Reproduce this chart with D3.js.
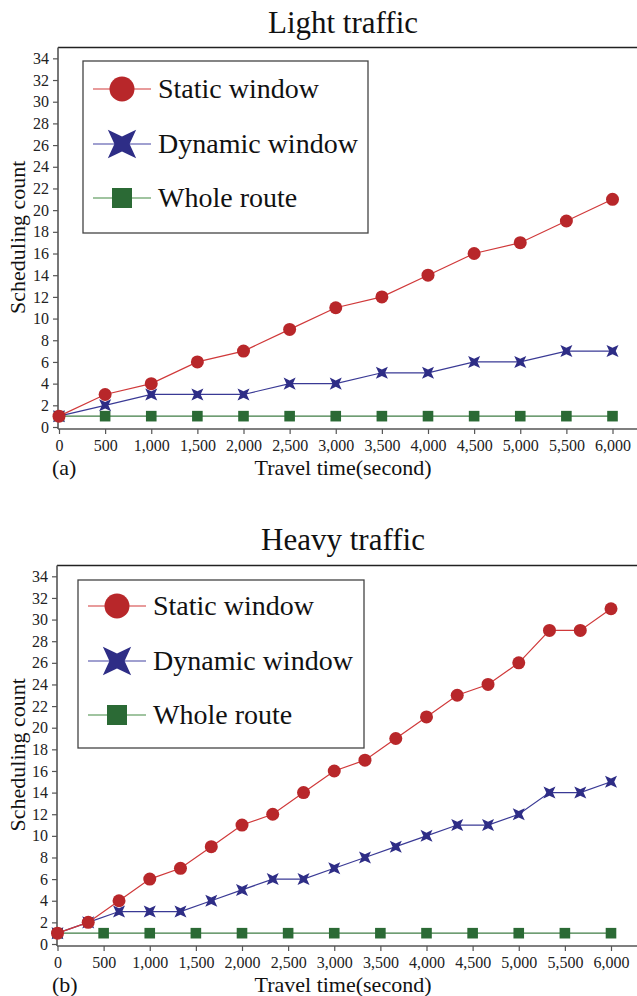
<!DOCTYPE html>
<html>
<head>
<meta charset="utf-8">
<script src="https://cdn.jsdelivr.net/npm/d3@7/dist/d3.min.js"></script>
<style>
  body { margin: 0; background: #fff; }
  svg { display: block; }
</style>
</head>
<body>
<div id="chart"></div>
<script>
// light traffic (a)
var lightX = [0, 500, 1000, 1500, 2000, 2500, 3000, 3500, 4000, 4500, 5000, 5500, 6000];
var lightStatic = [1, 3, 4, 6, 7, 9, 11, 12, 14, 16, 17, 19, 21];
var lightDynamic = [1, 2, 3, 3, 3, 4, 4, 5, 5, 6, 6, 7, 7];
var lightWhole = [1, 1, 1, 1, 1, 1, 1, 1, 1, 1, 1, 1, 1];

// heavy traffic (b) - static/dynamic sampled every 1/3 of 1000 s
var heavyX = [0, 333, 667, 1000, 1333, 1667, 2000, 2333, 2667, 3000, 3333, 3667, 4000, 4333, 4667, 5000, 5333, 5667, 6000];
var heavyStatic = [1, 2, 4, 6, 7, 9, 11, 12, 14, 16, 17, 19, 21, 23, 24, 26, 29, 29, 31];
var heavyDynamic = [1, 2, 3, 3, 3, 4, 5, 6, 6, 7, 8, 9, 10, 11, 11, 12, 14, 14, 15];
var heavyWholeX = [0, 500, 1000, 1500, 2000, 2500, 3000, 3500, 4000, 4500, 5000, 5500, 6000];
var heavyWhole = [1, 1, 1, 1, 1, 1, 1, 1, 1, 1, 1, 1, 1];

var xTicks = d3.range(0, 6001, 500);
var yTicks = d3.range(0, 35, 2);
var seriesNames = ["Static window", "Dynamic window", "Whole route"];

var FONT = "Liberation Serif";
var W = 637, H = 996;
var svg = d3.select("#chart").append("svg").attr("width", W).attr("height", H)
  .attr("font-family", FONT);

var styles = {
  "Static window": { line: "#d0393a", fill: "#b8272a", legendLine: "#e07a7a", marker: "circle" },
  "Dynamic window": { line: "#3a3a95", fill: "#2e2d86", legendLine: "#8080c0", marker: "cross" },
  "Whole route": { line: "#3f7d45", fill: "#2b6a35", legendLine: "#80b080", marker: "square" }
};

function starPath(R) {
  // four pointed star with points on the diagonals
  var r = R * 0.38, pts = [];
  for (var i = 0; i < 8; i++) {
    var a = Math.PI / 4 + i * Math.PI / 4;
    var rad = i % 2 === 0 ? R : r;
    pts.push([rad * Math.cos(a), rad * Math.sin(a)]);
  }
  return "M" + pts.map(function(p) { return p[0].toFixed(2) + "," + p[1].toFixed(2); }).join("L") + "Z";
}

function drawMarker(g, type, cx, cy, size, color) {
  if (type === "circle") {
    g.append("circle").attr("cx", cx).attr("cy", cy).attr("r", size).attr("fill", color);
  } else if (type === "square") {
    g.append("rect").attr("x", cx - size).attr("y", cy - size)
      .attr("width", size * 2).attr("height", size * 2).attr("fill", color);
  } else {
    g.append("path").attr("d", starPath(size)).attr("transform", "translate(" + cx + "," + cy + ")")
      .attr("fill", color);
  }
}

function drawPanel(p) {
  var g = svg.append("g");
  var x = d3.scaleLinear().domain([0, 6000]).range([p.x0, p.x1]);
  var y = d3.scaleLinear().domain([0, 35]).range([p.yBottom, p.yTop]);

  // title
  g.append("text").attr("x", 343).attr("y", p.titleY).attr("text-anchor", "middle")
    .attr("font-size", 31).attr("fill", "#111").text(p.title);

  // top frame line
  g.append("line").attr("x1", p.axisX).attr("x2", W).attr("y1", p.yTop).attr("y2", p.yTop)
    .attr("stroke", "#222").attr("stroke-width", 1.6);

  // y axis
  var yAxis = d3.axisLeft(y).tickValues(yTicks).tickSize(5).tickPadding(4).tickFormat(d3.format("d"));
  var ya = g.append("g").attr("transform", "translate(" + p.axisX + ",0)").call(yAxis);
  ya.attr("font-family", FONT);
  ya.select(".domain").attr("d", "M0," + (p.yBottom + 2) + "V" + p.yTop).attr("stroke", "#555").attr("stroke-width", 1.6);
  ya.selectAll(".tick line").attr("stroke", "#555").attr("stroke-width", 1.2);
  ya.selectAll("text").attr("font-size", 16).attr("fill", "#222");

  // x axis
  var xAxis = d3.axisBottom(x).tickValues(xTicks).tickSize(5).tickPadding(6).tickFormat(d3.format(","));
  var xa = g.append("g").attr("transform", "translate(0," + (p.yBottom + 2) + ")").call(xAxis);
  xa.attr("font-family", FONT);
  xa.select(".domain").attr("d", "M" + p.axisX + ",0H" + W).attr("stroke", "#555").attr("stroke-width", 1.6);
  xa.selectAll(".tick line").attr("stroke", "#555").attr("stroke-width", 1.2);
  xa.selectAll("text").attr("font-size", 16).attr("fill", "#222");

  // axis titles
  g.append("text").attr("x", 343).attr("y", p.yBottom + 48).attr("text-anchor", "middle")
    .attr("font-size", 22).attr("fill", "#111").text("Travel time(second)");
  g.append("text").attr("x", 52).attr("y", p.yBottom + 48)
    .attr("font-size", 22).attr("fill", "#111").text(p.tag);
  g.append("text").attr("transform", "translate(25," + ((p.yTop + p.yBottom) / 2) + ") rotate(-90)")
    .attr("text-anchor", "middle").attr("font-size", 22).attr("fill", "#111").text("Scheduling count");

  // series
  p.series.forEach(function(s) {
    var st = styles[s.name];
    var pts = s.xs.map(function(v, i) { return [x(v), y(s.ys[i])]; });
    g.append("path").attr("d", d3.line()(pts)).attr("fill", "none")
      .attr("stroke", st.line).attr("stroke-width", 1.2);
    var mg = g.append("g");
    pts.forEach(function(pt) {
      var size = st.marker === "circle" ? 6.5 : st.marker === "square" ? 5.3 : 8.5;
      drawMarker(mg, st.marker, pt[0], pt[1], size, st.fill);
    });
  });

  // legend
  var lg = g.append("g");
  lg.append("rect").attr("x", p.legend[0]).attr("y", p.legend[1])
    .attr("width", p.legend[2] - p.legend[0]).attr("height", p.legend[3] - p.legend[1])
    .attr("fill", "#fff").attr("stroke", "#444").attr("stroke-width", 1.3);
  seriesNames.forEach(function(name, i) {
    var st = styles[name];
    var ly = p.legendRows[i];
    var lx = p.legend[0] + 10;
    lg.append("line").attr("x1", lx).attr("x2", lx + 58).attr("y1", ly).attr("y2", ly)
      .attr("stroke", st.legendLine).attr("stroke-width", 1.5);
    var size = st.marker === "circle" ? 12.5 : st.marker === "square" ? 10 : 20;
    drawMarker(lg, st.marker, lx + 29, ly, size, st.fill);
    lg.append("text").attr("x", lx + 65).attr("y", ly + 9).attr("font-size", 28)
      .attr("fill", "#111").text(name);
  });
}

drawPanel({
  title: "Light traffic", tag: "(a)", titleY: 33,
  axisX: 58, x0: 59, x1: 612.5, yTop: 47.5, yBottom: 427,
  legend: [83, 61, 368, 233], legendRows: [89, 144, 198],
  series: [
    { name: "Static window", xs: lightX, ys: lightStatic },
    { name: "Dynamic window", xs: lightX, ys: lightDynamic },
    { name: "Whole route", xs: lightX, ys: lightWhole }
  ].reverse()
});

drawPanel({
  title: "Heavy traffic", tag: "(b)", titleY: 550,
  axisX: 57, x0: 57.5, x1: 611, yTop: 565.5, yBottom: 944,
  legend: [78, 580, 364, 748], legendRows: [606, 661, 715],
  series: [
    { name: "Static window", xs: heavyX, ys: heavyStatic },
    { name: "Dynamic window", xs: heavyX, ys: heavyDynamic },
    { name: "Whole route", xs: heavyWholeX, ys: heavyWhole }
  ].reverse()
});

svg.selectAll("text").attr("font-family", FONT);
</script>
</body>
</html>
